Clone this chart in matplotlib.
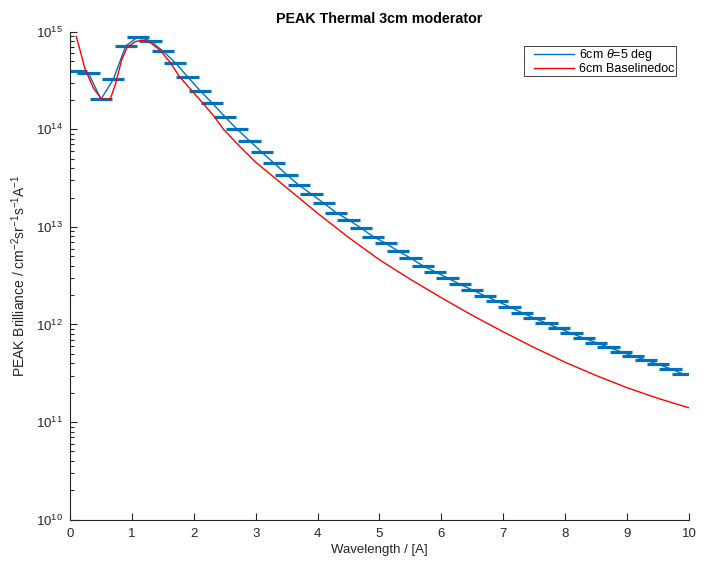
import numpy as np
import matplotlib.pyplot as plt
from matplotlib.lines import Line2D
from matplotlib.legend_handler import HandlerLine2D
from matplotlib.ticker import LogLocator, NullFormatter

plt.rcParams['font.family'] = ['Liberation Sans', 'DejaVu Sans']
plt.rcParams['mathtext.fontset'] = 'custom'
plt.rcParams['mathtext.rm'] = 'Liberation Sans'
plt.rcParams['mathtext.it'] = 'Liberation Sans:italic'

# -- 6cm theta=5 deg, binned (bin centres, half width) --
wl_bins = [0.1, 0.3, 0.5, 0.7, 0.9, 1.1, 1.3, 1.5, 1.7, 1.9,
           2.1, 2.3, 2.5, 2.7, 2.9, 3.1, 3.3, 3.5, 3.7, 3.9,
           4.1, 4.3, 4.5, 4.7, 4.9, 5.1, 5.3, 5.5, 5.7, 5.9,
           6.1, 6.3, 6.5, 6.7, 6.9, 7.1, 7.3, 7.5, 7.7, 7.9,
           8.1, 8.3, 8.5, 8.7, 8.9, 9.1, 9.3, 9.5, 9.7, 9.9]
bril_bins = [3.96e14, 3.75e14, 2.03e14, 3.25e14, 7.14e14, 8.89e14, 8.03e14, 6.34e14, 4.81e14, 3.46e14,
             2.49e14, 1.85e14, 1.35e14, 1.00e14, 7.64e13, 5.81e13, 4.48e13, 3.43e13, 2.67e13, 2.17e13,
             1.75e13, 1.40e13, 1.18e13, 9.75e12, 7.94e12, 6.79e12, 5.66e12, 4.80e12, 4.00e12, 3.47e12,
             2.99e12, 2.58e12, 2.26e12, 1.97e12, 1.73e12, 1.52e12, 1.32e12, 1.16e12, 1.03e12, 9.14e11,
             8.13e11, 7.23e11, 6.52e11, 5.84e11, 5.26e11, 4.75e11, 4.32e11, 3.91e11, 3.52e11, 3.12e11]
bin_halfwidth = 0.18

# -- 6cm Baselinedoc --
wl_base = [0.1, 0.17, 0.24, 0.38, 0.51, 0.65, 0.73, 0.835, 0.92, 1.05,
           1.16, 1.29, 1.45, 1.61, 1.77, 2.1, 2.32, 2.48, 2.77, 3.0,
           3.5, 4.0, 4.5, 5.0, 5.5, 6.0, 6.5, 7.0, 7.5, 8.0,
           8.5, 9.0, 9.5, 10.0]
bril_base = [9.0e14, 6.2e14, 4.2e14, 2.63e14, 2.04e14, 2.04e14, 2.84e14, 5.13e14, 6.86e14, 7.9e14,
             8.2e14, 7.8e14, 6.5e14, 4.93e14, 3.46e14, 2.0e14, 1.38e14, 1.0e14, 6.4e13, 4.6e13,
             2.52e13, 1.38e13, 7.8e12, 4.6e12, 2.9e12, 1.88e12, 1.24e12, 8.4e11, 5.8e11, 4.1e11,
             3.0e11, 2.25e11, 1.75e11, 1.4e11]

blue = '#0072BD'
dark = '#262626'

fig = plt.figure(figsize=(7.07, 5.62), dpi=100)
ax = fig.add_axes([0.099, 0.0753, 0.8755, 0.8683])

ax.errorbar(wl_bins, bril_bins, xerr=bin_halfwidth, fmt='none', ecolor=blue,
            elinewidth=2.3, capsize=0)
ax.plot(wl_bins, bril_bins, '-', color=blue, lw=1.0, label=r'6cm $\mathit{\theta}$=5 deg')
ax.plot(wl_base, bril_base, '-', color='red', lw=1.0, label='6cm Baselinedoc')

ax.set_yscale('log')
ax.set_xlim(0, 10)
ax.set_ylim(1e10, 1e15)
ax.set_xticks(range(11))
ax.yaxis.set_major_locator(LogLocator(base=10, numticks=10))
ax.yaxis.set_minor_locator(LogLocator(base=10, subs=np.arange(2, 10), numticks=50))
ax.yaxis.set_minor_formatter(NullFormatter())

for s in ['top', 'right']:
    ax.spines[s].set_visible(False)
for s in ['left', 'bottom']:
    ax.spines[s].set_color(dark)
    ax.spines[s].set_linewidth(0.8)
ax.tick_params(which='both', direction='in', colors=dark, labelsize=9.5, width=0.8)
ax.tick_params(which='major', length=5)
ax.tick_params(axis='x', which='major', pad=6)
ax.tick_params(axis='y', which='major', pad=5)
ax.tick_params(which='minor', length=3)

ax.set_xlabel('Wavelength / [A]', fontsize=9.5, color=dark, labelpad=3)
ax.set_ylabel(r'PEAK Brilliance / cm$^{-2}$sr$^{-1}$s$^{-1}$A$^{-1}$', fontsize=10, color=dark, labelpad=6)
ax.set_title('PEAK Thermal 3cm moderator', fontsize=10.3, fontweight='bold', pad=6)

leg = ax.legend(loc='upper right', bbox_to_anchor=(0.979, 0.971), fontsize=9, fancybox=False,
                edgecolor=dark, framealpha=1, borderpad=0.1, labelspacing=0.0,
                handlelength=3.9, handletextpad=0.4, borderaxespad=0,
                handler_map={Line2D: HandlerLine2D(xpad=0.65)})
leg.get_frame().set_linewidth(0.6)

fig.savefig('out.png', dpi=100)
